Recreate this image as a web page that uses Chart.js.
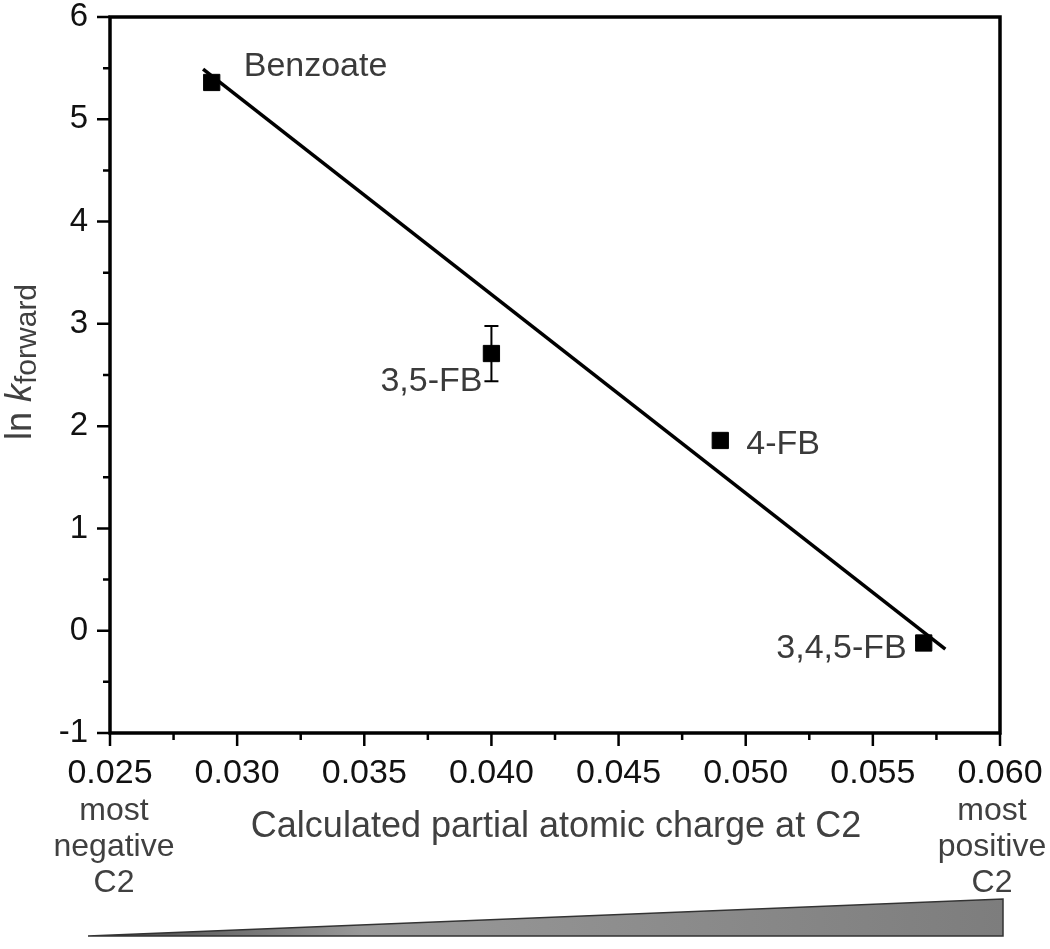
<!DOCTYPE html>
<html>
<head>
<meta charset="utf-8">
<script src="https://cdn.jsdelivr.net/npm/chart.js@4.4.0/dist/chart.umd.min.js"></script>
<style>
body{margin:0;background:#fff;}
#wrap{width:1050px;height:949px;}
</style>
</head>
<body>
<div id="wrap"><canvas id="c"></canvas></div>
<script>
// data
const compounds = ['Benzoate', '3,5-FB', '4-FB', '3,4,5-FB'];
const charges = [0.029, 0.040, 0.049, 0.057];
const lnK = [5.36, 2.71, 1.86, -0.12];
const lnKErr = [0, 0.27, 0, 0];
const fitX = [0.02866, 0.05785];
const fitY = [5.49, -0.18];

const xTicks = [0.025, 0.030, 0.035, 0.040, 0.045, 0.050, 0.055, 0.060];
const xMinor = [0.0275, 0.0325, 0.0375, 0.0425, 0.0475, 0.0525, 0.0575];
const yTicks = [-1, 0, 1, 2, 3, 4, 5, 6];
const yMinor = [-0.5, 0.5, 1.5, 2.5, 3.5, 4.5, 5.5];

const FONT = '"Liberation Sans", Arial, sans-serif';

// label placement relative to each point: dx, dy (baseline), align
const labelPos = [
    [32, -6, 'left'],
    [-9, 37, 'right'],
    [26, 14, 'left'],
    [-17, 15, 'right']
];

const decor = {
    id: 'decor',
    afterDatasetsDraw(chart) {
        const c = chart.ctx;
        const a = chart.chartArea;
        const xs = chart.scales.x, ys = chart.scales.y;
        c.save();

        // error bars
        c.strokeStyle = '#000';
        c.lineWidth = 2;
        for (let i = 0; i < charges.length; i++) {
            if (!lnKErr[i]) continue;
            const px = xs.getPixelForValue(charges[i]);
            const top = ys.getPixelForValue(lnK[i] + lnKErr[i]);
            const bot = ys.getPixelForValue(lnK[i] - lnKErr[i]);
            c.beginPath();
            c.moveTo(px, top); c.lineTo(px, bot);
            c.moveTo(px - 7, top); c.lineTo(px + 7, top);
            c.moveTo(px - 7, bot); c.lineTo(px + 7, bot);
            c.stroke();
        }

        // frame
        c.lineWidth = 3.5;
        c.strokeRect(a.left, a.top, a.right - a.left, a.bottom - a.top);

        // tick marks (outward)
        c.lineWidth = 2.5;
        c.beginPath();
        yTicks.forEach(v => { const p = ys.getPixelForValue(v); c.moveTo(a.left, p); c.lineTo(a.left - 13, p); });
        yMinor.forEach(v => { const p = ys.getPixelForValue(v); c.moveTo(a.left, p); c.lineTo(a.left - 7, p); });
        xTicks.forEach(v => { const p = xs.getPixelForValue(v); c.moveTo(p, a.bottom); c.lineTo(p, a.bottom + 13); });
        xMinor.forEach(v => { const p = xs.getPixelForValue(v); c.moveTo(p, a.bottom); c.lineTo(p, a.bottom + 7); });
        c.stroke();

        // point labels
        c.fillStyle = '#3a3a3a';
        c.font = '34px ' + FONT;
        c.textBaseline = 'alphabetic';
        compounds.forEach((name, i) => {
            const px = xs.getPixelForValue(charges[i]);
            const py = ys.getPixelForValue(lnK[i]);
            c.textAlign = labelPos[i][2];
            c.fillText(name, px + labelPos[i][0], py + labelPos[i][1]);
        });

        // x title
        c.fillStyle = '#404040';
        c.font = '36px ' + FONT;
        c.textAlign = 'center';
        c.fillText('Calculated partial atomic charge at C2', (a.left + a.right) / 2 + 1, a.bottom + 104);

        // end notes
        c.font = '32px ' + FONT;
        const l = a.left + 4, r = a.right - 8;
        [['most', 87], ['negative', 123], ['C2', 159]].forEach(t => c.fillText(t[0], l, a.bottom + t[1]));
        [['most', 87], ['positive', 123], ['C2', 159]].forEach(t => c.fillText(t[0], r, a.bottom + t[1]));

        // y title
        c.translate(31, 440);
        c.rotate(-Math.PI / 2);
        c.textAlign = 'left';
        c.font = '36px ' + FONT;
        c.fillText('ln ', 0, 0);
        let w = c.measureText('ln ').width;
        c.font = 'italic 36px ' + FONT;
        c.fillText('k', w, 0);
        w += c.measureText('k').width;
        c.font = '30px ' + FONT;
        c.fillText('forward', w, 5);
        c.restore();

        // gradient wedge
        c.save();
        const x0 = a.left - 22, x1 = a.right + 3, yb = a.bottom + 203, yt = a.bottom + 166;
        const g = c.createLinearGradient(x0, 0, x1, 0);
        g.addColorStop(0, '#444');
        g.addColorStop(0.3, '#999');
        g.addColorStop(1, '#7d7d7d');
        c.beginPath();
        c.moveTo(x0, yb); c.lineTo(x1, yt); c.lineTo(x1, yb); c.closePath();
        c.fillStyle = g;
        c.fill();
        c.strokeStyle = '#333';
        c.lineWidth = 1.5;
        c.stroke();
        c.restore();
    }
};

const ctx = document.getElementById('c');
const chart = new Chart(ctx, {
    type: 'scatter',
    data: {
        datasets: [
            {
                type: 'line',
                data: fitX.map((x, i) => ({x: x, y: fitY[i]})),
                borderColor: '#000',
                borderWidth: 3.5,
                pointRadius: 0,
                fill: false,
                order: 0
            },
            {
                data: charges.map((x, i) => ({x: x, y: lnK[i]})),
                pointStyle: 'rect',
                pointRadius: 11.5,
                backgroundColor: '#000',
                borderColor: '#000',
                borderWidth: 1,
                order: 1
            }
        ]
    },
    options: {
        responsive: true,
        maintainAspectRatio: false,
        animation: false,
        layout: {padding: {top: 17, right: 50, bottom: 0, left: 0}},
        plugins: {legend: {display: false}, tooltip: {enabled: false}},
        scales: {
            x: {
                type: 'linear',
                min: 0.025,
                max: 0.060,
                grid: {display: false, drawTicks: false},
                border: {display: false},
                afterBuildTicks: s => { s.ticks = xTicks.map(v => ({value: v})); },
                afterFit: s => { s.height = 216; s.paddingLeft = 0; s.paddingRight = 0; },
                ticks: {
                    color: '#111',
                    padding: 20,
                    font: {family: FONT, size: 34},
                    callback: v => v.toFixed(3)
                }
            },
            y: {
                min: -1,
                max: 6,
                grid: {display: false, drawTicks: false},
                border: {display: false},
                afterBuildTicks: s => { s.ticks = yTicks.map(v => ({value: v})); },
                afterFit: s => { s.width = 110; s.paddingTop = 0; s.paddingBottom = 0; },
                ticks: {
                    color: '#111',
                    padding: 22,
                    font: {family: FONT, size: 33},
                    callback: v => String(v)
                }
            }
        }
    },
    plugins: [decor]
});
</script>
</body>
</html>
